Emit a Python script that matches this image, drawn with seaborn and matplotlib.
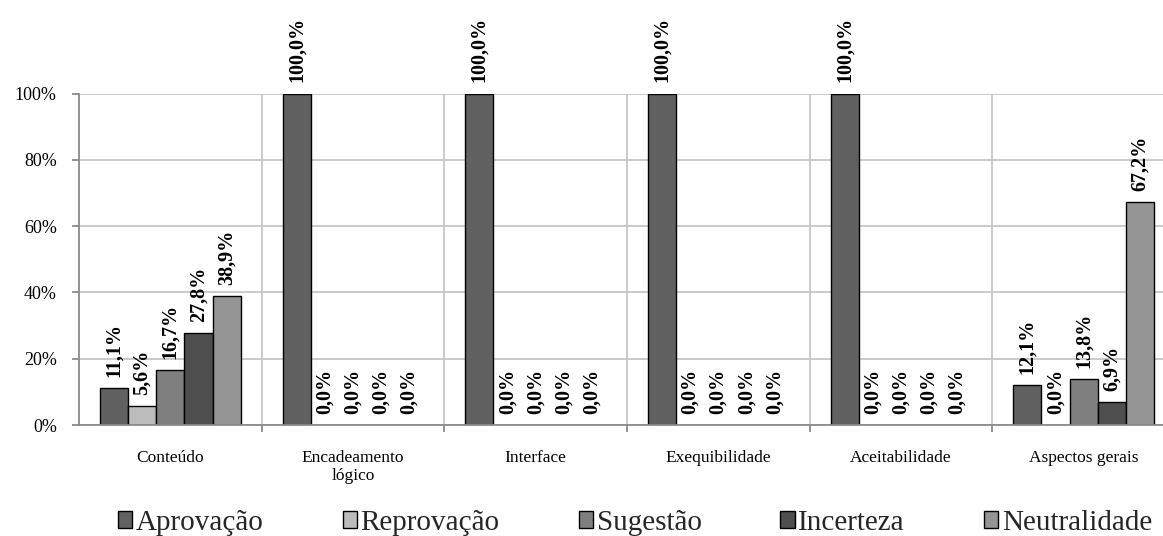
import matplotlib
matplotlib.use("Agg")
import matplotlib.pyplot as plt
from matplotlib.ticker import FixedLocator, PercentFormatter
import seaborn as sns
import pandas as pd

categories = ["Conteúdo", "Encadeamento\nlógico", "Interface",
              "Exequibilidade", "Aceitabilidade", "Aspectos gerais"]
series = ["Aprovação", "Reprovação", "Sugestão", "Incerteza", "Neutralidade"]

aprovacao = [11.1, 100.0, 100.0, 100.0, 100.0, 12.1]
reprovacao = [5.6, 0.0, 0.0, 0.0, 0.0, 0.0]
sugestao = [16.7, 0.0, 0.0, 0.0, 0.0, 13.8]
incerteza = [27.8, 0.0, 0.0, 0.0, 0.0, 6.9]
neutralidade = [38.9, 0.0, 0.0, 0.0, 0.0, 67.2]

colors = ["#616161", "#bcbcbc", "#7f7f7f", "#4f4f4f", "#959595"]

rows = []
for name, vals in zip(series, [aprovacao, reprovacao, sugestao, incerteza, neutralidade]):
    for cat, v in zip(categories, vals):
        rows.append({"categoria": cat, "tipo": name, "valor": v / 100.0})
df = pd.DataFrame(rows)

sns.set_theme(style="white")
plt.rcParams["font.family"] = ["Liberation Serif", "DejaVu Serif"]

fig = plt.figure(figsize=(11.63, 5.36), dpi=100)
ax = fig.add_axes([79 / 1163, 111 / 536, 1096 / 1163, 331.5 / 536])

sns.barplot(data=df, x="categoria", y="valor", hue="tipo", order=categories,
            hue_order=series, palette=colors, width=0.77, edgecolor="black",
            linewidth=1.0, saturation=1, legend=False, ax=ax)

ax.set_ylim(0, 1.0)
ax.set_xlim(-0.5, len(categories) - 0.5)
ax.yaxis.set_major_locator(FixedLocator([0, 0.2, 0.4, 0.6, 0.8, 1.0]))
ax.yaxis.set_major_formatter(PercentFormatter(1.0, decimals=0))
ax.set_xlabel("")
ax.set_ylabel("")

grid_c = "#c6c6c6"
axis_c = "#8a8a8a"
ax.set_axisbelow(True)
ax.yaxis.grid(True, color=grid_c, linewidth=1.3)
ax.xaxis.set_minor_locator(FixedLocator([i + 0.5 for i in range(len(categories))]))
ax.xaxis.grid(True, which="minor", color=grid_c, linewidth=1.3)
ax.xaxis.grid(False, which="major")

for side in ["top", "right"]:
    ax.spines[side].set_visible(False)
for side in ["left", "bottom"]:
    ax.spines[side].set_color(axis_c)
    ax.spines[side].set_linewidth(1.3)

ax.tick_params(axis="y", which="major", length=5, width=1.3, color=axis_c,
               pad=11, labelsize=13, labelcolor="black", left=True)
ax.tick_params(axis="x", which="major", length=0, pad=18, labelsize=12.5,
               labelcolor="black")
ax.tick_params(axis="x", which="minor", length=5, width=1.3, color=axis_c,
               bottom=True)
for lbl in ax.get_xticklabels():
    lbl.set_linespacing(1.15)

# Value labels above every bar, rotated, with comma decimal separator
for cont, vals in zip(ax.containers, [aprovacao, reprovacao, sugestao, incerteza, neutralidade]):
    for patch, v in zip(cont.patches, vals):
        if v == 0:
            patch.set_linewidth(0)
    labels = [f"{v:.1f}%".replace(".", ",") for v in vals]
    ax.bar_label(cont, labels=labels, rotation=90, padding=8,
                 fontsize=14.5, fontweight="bold", color="black", clip_on=False)

handles = [plt.Rectangle((0, 0), 1, 1, facecolor=c, edgecolor="black", linewidth=1.0)
           for c in colors]
fig.legend(handles, series, loc="center", bbox_to_anchor=(0.546, 0.024),
           ncol=5, frameon=False, fontsize=21, handlelength=0.5,
           handleheight=0.5, handletextpad=0.12, columnspacing=2.7)

fig.savefig("out.png", dpi=100)
